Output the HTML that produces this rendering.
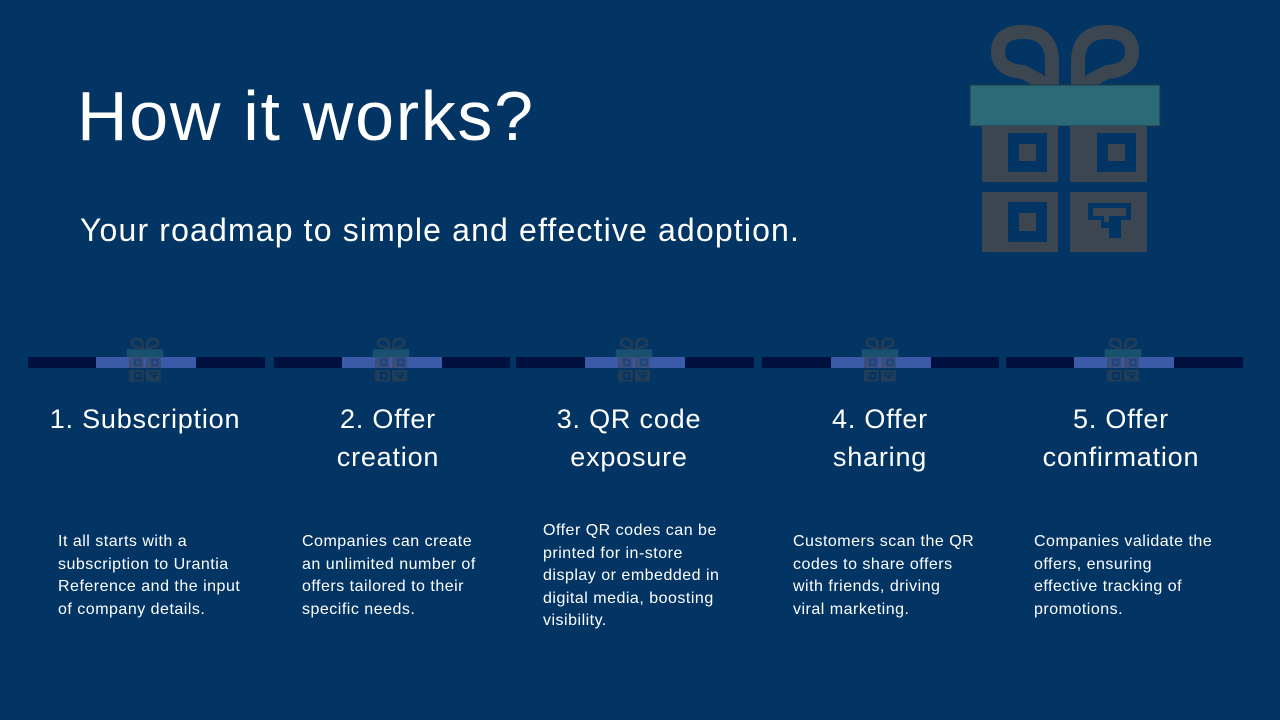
<!DOCTYPE html>
<html><head><meta charset="utf-8"><style>
*{margin:0;padding:0}
body{width:1280px;height:720px;background:#023464;position:relative;overflow:hidden;font-family:"Liberation Sans","DejaVu Sans",sans-serif;color:#fff}
.a{position:absolute}
h1{position:absolute;left:77px;top:76px;font-size:70px;font-weight:normal;letter-spacing:1.7px}
.sub{left:80px;top:212px;font-size:32px;letter-spacing:1.15px}
.bar{position:absolute;top:357px;height:11px;background:#00113f}
.blu{position:absolute;top:357px;height:11px;background:#3b5ba8;width:100px}
.t{position:absolute;top:400px;width:240px;text-align:center;font-size:27px;line-height:38px;letter-spacing:0.8px}
.d{position:absolute;font-size:16px;line-height:22.5px;width:200px;letter-spacing:0.5px}
</style></head><body>
<svg width="0" height="0" style="position:absolute">
<symbol id="g" viewBox="0 0 194 232">
<g fill="none" stroke="#3b4650" stroke-width="14">
<path d="M84 68 L84 40 Q84 10 55 10 Q30 10 30 30 Q30 48 55 50 L70 58 L84 68"/>
<path d="M110 68 L110 40 Q110 10 139 10 Q164 10 164 30 Q164 48 139 50 L124 58 L110 68"/>
</g>
<rect x="2" y="63" width="190" height="41" fill="#2d6a77" stroke="#1e3a4a"/>
<rect x="14" y="104" width="76" height="56" fill="#3b4650"/>
<rect x="102" y="104" width="77" height="56" fill="#3b4650"/>
<rect x="14" y="170" width="76" height="60" fill="#3b4650"/>
<rect x="102" y="170" width="77" height="60" fill="#3b4650"/>
<g fill="#023464">
<rect x="40" y="111" width="39" height="39"/><rect x="129" y="111" width="39" height="39"/>
<rect x="40" y="180" width="39" height="40"/>
</g>
<g fill="#3b4650">
<rect x="51" y="122" width="17" height="17"/><rect x="140" y="122" width="17" height="17"/>
<rect x="51" y="191" width="17" height="18"/>
</g>
<path d="M120 181 h43 v17 h-10 v18 h-12 v-10 h-8 v-8 h-13z" fill="#023464"/>
<path d="M125 186 h33 v8 h-17 v6 h-5 v-6 h-11z" fill="#3b4650"/>
</symbol>
</svg>
<h1>How it works?</h1>
<div class="a sub">Your roadmap to simple and effective adoption.</div>
<svg class="a" style="left:968px;top:22px" width="194" height="232"><use href="#g"/></svg>

<div class="bar" style="left:28px;width:237px"></div>
<div class="bar" style="left:274px;width:236px"></div>
<div class="bar" style="left:516px;width:238px"></div>
<div class="bar" style="left:762px;width:237px"></div>
<div class="bar" style="left:1006px;width:237px"></div>
<div class="blu" style="left:96px"></div>
<div class="blu" style="left:342px"></div>
<div class="blu" style="left:585px"></div>
<div class="blu" style="left:831px"></div>
<div class="blu" style="left:1074px"></div>
<svg class="a" style="left:126px;top:337px;opacity:.55" width="38" height="45"><use href="#g"/></svg>
<svg class="a" style="left:372px;top:337px;opacity:.55" width="38" height="45"><use href="#g"/></svg>
<svg class="a" style="left:615px;top:337px;opacity:.55" width="38" height="45"><use href="#g"/></svg>
<svg class="a" style="left:861px;top:337px;opacity:.55" width="38" height="45"><use href="#g"/></svg>
<svg class="a" style="left:1104px;top:337px;opacity:.55" width="38" height="45"><use href="#g"/></svg>

<div class="t" style="left:25px">1. Subscription</div>
<div class="t" style="left:268px">2. Offer<br>creation</div>
<div class="t" style="left:509px">3. QR code<br>exposure</div>
<div class="t" style="left:760px">4. Offer<br>sharing</div>
<div class="t" style="left:1001px">5. Offer<br>confirmation</div>

<div class="d" style="left:58px;top:531px">It all starts with a<br>subscription to Urantia<br>Reference and the input<br>of company details.</div>
<div class="d" style="left:302px;top:531px">Companies can create<br>an unlimited number of<br>offers tailored to their<br>specific needs.</div>
<div class="d" style="left:543px;top:520px">Offer QR codes can be<br>printed for in-store<br>display or embedded in<br>digital media, boosting<br>visibility.</div>
<div class="d" style="left:793px;top:531px">Customers scan the QR<br>codes to share offers<br>with friends, driving<br>viral marketing.</div>
<div class="d" style="left:1034px;top:531px">Companies validate the<br>offers, ensuring<br>effective tracking of<br>promotions.</div>
</body></html>
